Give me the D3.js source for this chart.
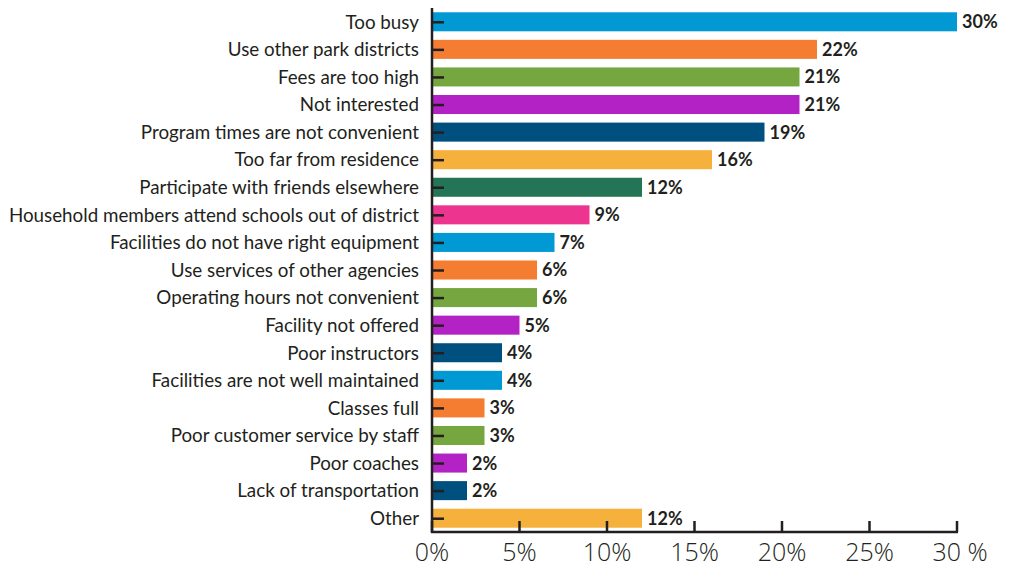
<!DOCTYPE html>
<html><head><meta charset="utf-8">
<script src="https://cdn.jsdelivr.net/npm/d3@7"></script>
<style>body{margin:0;background:#fff}</style>
</head><body><svg id="c" width="1013" height="568"></svg>
<script>
const categories = ["Too busy","Use other park districts","Fees are too high","Not interested","Program times are not convenient","Too far from residence","Participate with friends elsewhere","Household members attend schools out of district","Facilities do not have right equipment","Use services of other agencies","Operating hours not convenient","Facility not offered","Poor instructors","Facilities are not well maintained","Classes full","Poor customer service by staff","Poor coaches","Lack of transportation","Other"];
const values = [30,22,21,21,19,16,12,9,7,6,6,5,4,4,3,3,2,2,12];
const colors = ["#0099d3","#f47d32","#76a640","#b322c4","#00507f","#f6b13d","#237555","#ed3590","#0099d3","#f47d32","#76a640","#b322c4","#00507f","#0099d3","#f47d32","#76a640","#b322c4","#00507f","#f6b13d"];
const xTicks = [0,5,10,15,20,25,30];
const xTickLabels = ["0%","5%","10%","15%","20%","25%","30 %"];

const svg = d3.select("#c");
const ink = "#231f20";
const x = d3.scaleLinear().domain([0,30]).range([432,957]);
const y = d3.scaleBand().domain(categories).range([8,532]).paddingInner(0.31).paddingOuter(0.155);

svg.selectAll("rect.bar").data(categories).join("rect").attr("class","bar")
  .attr("x", x(0)+1).attr("y", d=>y(d)).attr("height", y.bandwidth())
  .attr("width", (d,i)=>x(values[i])-x(0)-1).attr("fill",(d,i)=>colors[i]);

svg.selectAll("text.val").data(categories).join("text").attr("class","val")
  .attr("x",(d,i)=>x(values[i])+5).attr("y",d=>y(d)+y.bandwidth()/2)
  .attr("dy","0.36em").attr("font-family","Lato, 'Open Sans', sans-serif")
  .attr("font-weight","bold").attr("font-size",18).attr("fill",ink)
  .text((d,i)=>values[i]+"%");

svg.selectAll("text.cat").data(categories).join("text").attr("class","cat")
  .attr("x",419).attr("y",d=>y(d)+y.bandwidth()/2).attr("dy","0.36em")
  .attr("text-anchor","end").attr("font-family","Lato, 'Open Sans', sans-serif")
  .attr("font-size",18.8).attr("fill",ink).text(d=>d);

// y axis line and ticks
svg.append("line").attr("x1",432).attr("x2",432).attr("y1",8).attr("y2",533)
  .attr("stroke",ink).attr("stroke-width",2.5);
svg.selectAll("line.yt").data(categories).join("line").attr("class","yt")
  .attr("x1",432).attr("x2",444).attr("y1",d=>y(d)+y.bandwidth()/2+0.5).attr("y2",d=>y(d)+y.bandwidth()/2+0.5)
  .attr("stroke",ink).attr("stroke-width",2.5);

// x axis
svg.append("line").attr("x1",431).attr("x2",958).attr("y1",532).attr("y2",532)
  .attr("stroke",ink).attr("stroke-width",2.5);
svg.selectAll("line.xt").data(xTicks).join("line").attr("class","xt")
  .attr("x1",d=>x(d)).attr("x2",d=>x(d)).attr("y1",521).attr("y2",532)
  .attr("stroke",ink).attr("stroke-width",2.5);
svg.selectAll("text.xl").data(xTicks).join("text").attr("class","xl")
  .attr("x",(d,i)=>x(d)+(i===xTicks.length-1?3:0)).attr("y",561)
  .attr("text-anchor","middle").attr("font-family","'Open Sans', sans-serif")
  .attr("font-weight",300).attr("font-size",25).attr("fill",ink)
  .text((d,i)=>xTickLabels[i]);
</script></body></html>
